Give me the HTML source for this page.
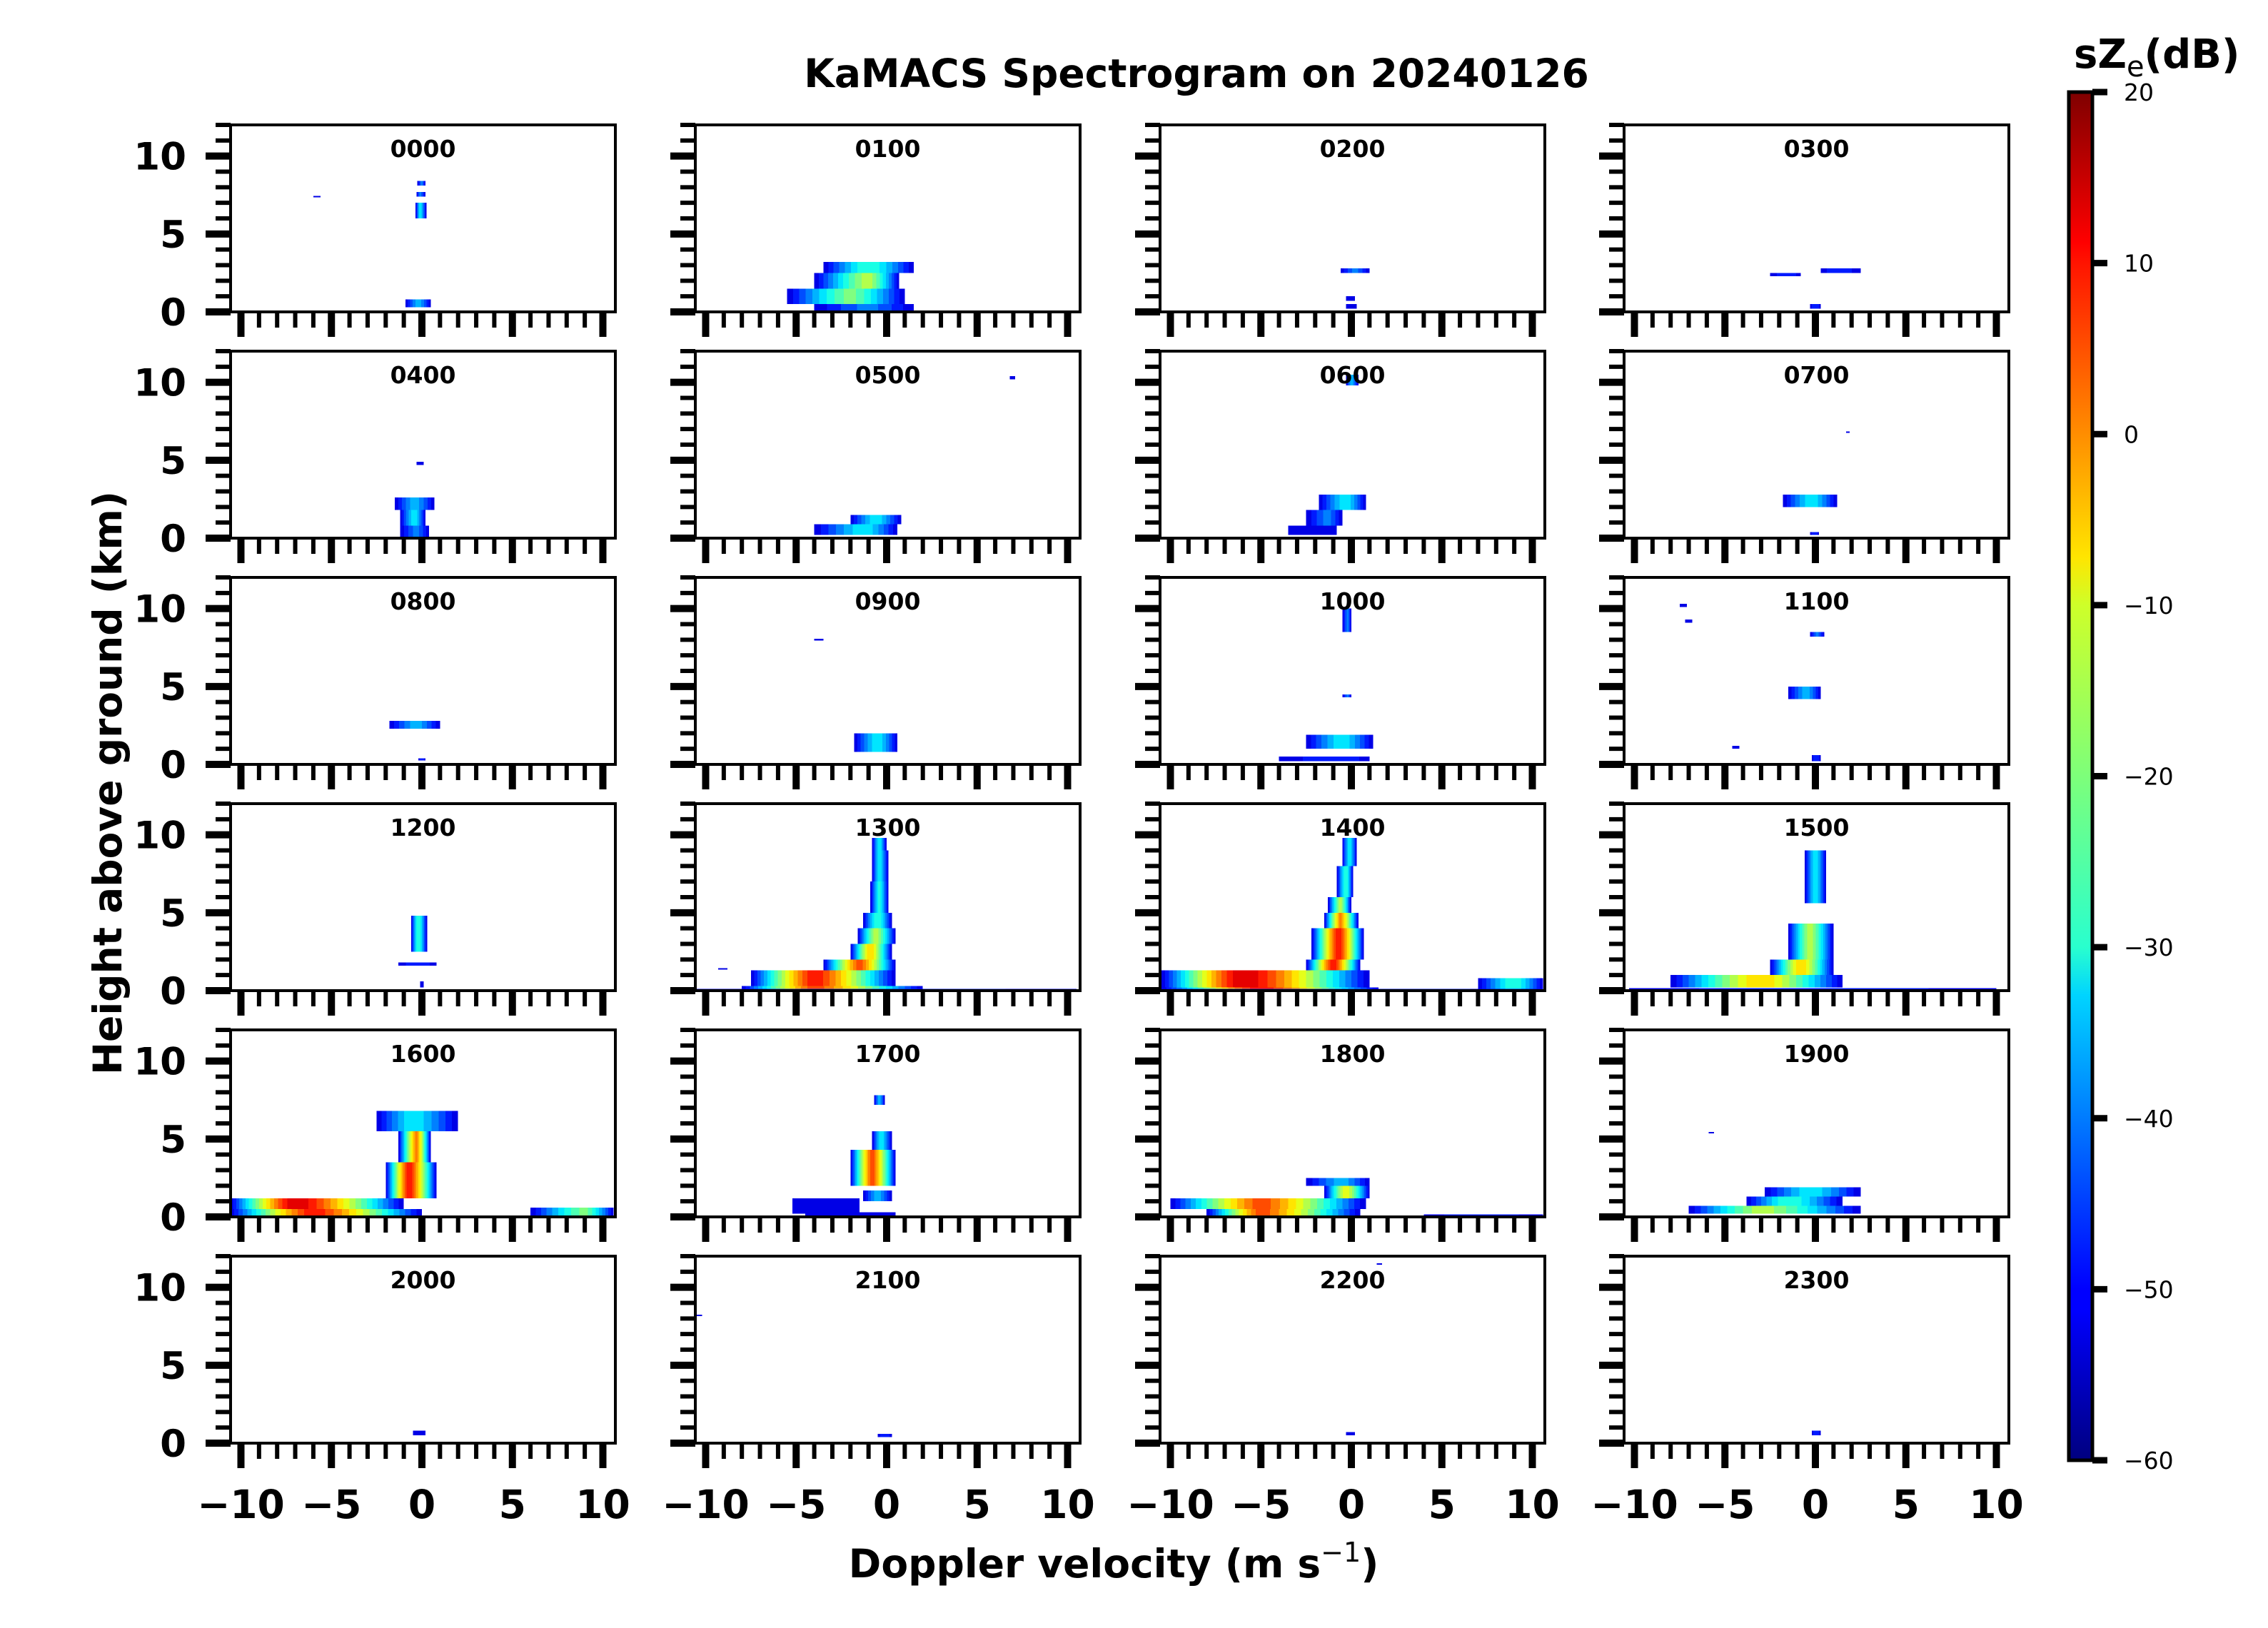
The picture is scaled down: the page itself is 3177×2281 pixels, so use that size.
<!DOCTYPE html>
<html><head><meta charset="utf-8"><style>
html,body{margin:0;padding:0;background:#fff;}
svg{display:block;font-family:"DejaVu Sans","Liberation Sans",sans-serif;}
</style></head><body>
<svg id="fig" width="3177" height="2281" viewBox="0 0 3177 2281" xmlns="http://www.w3.org/2000/svg">
<defs>
<linearGradient id="jetgrad" x1="0" y1="1" x2="0" y2="0">
<stop offset="0" stop-color="#00007f"/><stop offset="0.11" stop-color="#0000ff"/><stop offset="0.125" stop-color="#0000ff"/>
<stop offset="0.34" stop-color="#00d4ff"/><stop offset="0.375" stop-color="#29ffce"/><stop offset="0.5" stop-color="#7dff7a"/>
<stop offset="0.625" stop-color="#ceff29"/><stop offset="0.66" stop-color="#ffe500"/><stop offset="0.875" stop-color="#ff1400"/>
<stop offset="0.89" stop-color="#ff0000"/><stop offset="1" stop-color="#7f0000"/>
</linearGradient>
</defs>
<text x="1676" y="122" font-size="55" font-weight="bold" text-anchor="middle">KaMACS Spectrogram on 20240126</text>
<text x="1560" y="2210" font-size="55" font-weight="bold" text-anchor="middle">Doppler velocity (m s<tspan font-size="38" dy="-22" font-weight="normal">−1</tspan><tspan dy="22">)</tspan></text>
<text transform="translate(170,1097) rotate(-90)" font-size="55" font-weight="bold" text-anchor="middle">Height above ground (km)</text>
<g id="panels"></g>
<g id="cbar">
<rect x="2898" y="129" width="33" height="1917" fill="url(#jetgrad)" stroke="#000" stroke-width="5"/>
<text x="2905" y="95" font-size="56" font-weight="bold">sZ<tspan font-size="40" font-weight="normal" dy="12">e</tspan><tspan dy="-12">(dB)</tspan></text>
</g>
</svg>
<script>
const titles = ["0000","0100","0200","0300","0400","0500","0600","0700","0800","0900","1000","1100","1200","1300","1400","1500","1600","1700","1800","1900","2000","2100","2200","2300"];
const cbarTicks = [20,10,0,-10,-20,-30,-40,-50,-60];
const xTicks = [-10,-5,0,5,10];
const yTicks = [0,5,10];
// segments per panel: [h_bottom_km, h_top_km, v_left, v_right, v_core, peak_dB]
const seg0000 = [[6,7,-0.35,0.25,-0.1,-30],[7.4,7.7,-0.3,0.2,-0.1,-40],[8.1,8.4,-0.25,0.2,0,-40],[7.35,7.45,-6.0,-5.6,-5.8,-50],[1.3,1.4,-0.1,0.3,0.1,-55],[0.3,0.8,-0.9,0.5,-0.2,-35]];
const seg0100 = [[2.5,3.2,-3.5,1.5,-1,-25],[1.5,2.5,-4,0.7,-1,-15],[0.5,1.5,-5.5,1,-2,-20],[0.05,0.5,-4,1.5,-1,-40]];
const seg0200 = [[2.5,2.8,-0.6,1,0.2,-40],[0.7,1.0,-0.3,0.2,0,-50],[0.2,0.5,-0.3,0.3,0,-50]];
const seg0300 = [[2.3,2.5,-2.5,-0.8,-1.5,-45],[2.5,2.8,0.3,2.5,1.2,-45],[0.2,0.5,-0.3,0.3,0,-45]];
const seg0400 = [[1.8,2.6,-1.5,0.7,-0.4,-35],[0.8,1.8,-1.2,0.2,-0.4,-30],[0.05,0.8,-1.2,0.4,-0.3,-40],[4.7,4.9,-0.3,0.1,-0.1,-50]];
const seg0500 = [[0.9,1.5,-2,0.8,-0.6,-30],[0.2,0.9,-4,0.6,-1.2,-30],[10.2,10.4,6.8,7.1,7,-50]];
const seg0600 = [[1.8,2.8,-1.8,0.8,-0.3,-30],[0.8,1.8,-2.5,-0.5,-1.3,-40],[0.2,0.8,-3.5,-0.8,-2,-50],[9.8,10.5,-0.3,0.4,0,-35]];
const seg0700 = [[2,2.8,-1.8,1.2,-0.2,-30],[0.2,0.4,-0.3,0.2,0,-45],[6.75,6.85,1.7,1.9,1.8,-50]];
const seg0800 = [[2.3,2.8,-1.8,1,-0.3,-35],[0.25,0.4,-0.2,0.2,0,-45]];
const seg0900 = [[0.8,2,-1.8,0.6,-0.5,-30],[7.95,8.05,-4,-3.5,-3.7,-50]];
const seg1000 = [[8.5,10,-0.5,0,-0.2,-40],[4.3,4.5,-0.5,0,-0.2,-40],[1,1.9,-2.5,1.2,-0.5,-30],[0.2,0.5,-4,1,-0.5,-45]];
const seg1100 = [[4.2,5,-1.5,0.3,-0.5,-35],[8.2,8.5,-0.3,0.5,0.1,-40],[0.2,0.6,-0.2,0.3,0,-45],[10.1,10.3,-7.5,-7.1,-7.3,-50],[9.1,9.3,-7.2,-6.8,-7,-50],[1.0,1.2,-4.6,-4.2,-4.4,-50]];
const seg1200 = [[2.5,4.8,-0.6,0.3,-0.2,-25],[1.6,1.8,-1.3,0.8,-0.2,-45],[0.2,0.6,-0.1,0.1,0,-50]];
const seg1300 = [[9,9.8,-0.8,0,-0.4,-30],[7,9,-0.8,0.1,-0.4,-30],[5,7,-0.9,0.1,-0.4,-28],[4,5,-1.3,0.3,-0.5,-25],[3,4,-1.6,0.5,-0.6,-15],[2,3,-2,0.3,-0.9,-5],[1.3,2,-3.5,0.5,-1.5,5],[0.3,1.3,-7.5,0.5,-4,10],[0.05,0.3,-8,2,-4,5],[0,0.12,-10.5,10.5,0,-45],[1.35,1.45,-9.3,-8.8,-9,-50]];
const seg1400 = [[8,9.8,-0.5,0.3,-0.1,-30],[6,8,-0.8,0.1,-0.3,-25],[5,6,-1.3,0,-0.6,-15],[4,5,-1.5,0.4,-0.6,0],[2,4,-2.2,0.7,-0.7,10],[1.3,2,-2.5,0.5,-1,10],[0.2,1.3,-10.5,1,-6,15],[0,0.2,-10.5,1.5,-5,10],[0,0.8,7,10.6,9,-25],[0,0.12,-10.5,10.5,0,-45]];
const seg1500 = [[5.6,9,-0.6,0.6,0,-30],[2,4.3,-1.5,1,-0.3,-15],[1,2,-2.5,1,-0.8,-5],[0.2,1,-8,1.5,-3,-5],[0,0.15,-10.3,10,0,-45]];
const seg1600 = [[5.5,6.8,-2.5,2,-0.5,-30],[3.5,5.5,-1.3,0.5,-0.3,0],[1.2,3.5,-2,0.8,-0.7,10],[0.5,1.2,-10.6,-1,-7,15],[0,0.5,-10.6,0,-6,10],[0,0.6,6,10.6,9,-20]];
const seg1700 = [[7.2,7.8,-0.7,-0.1,-0.4,-35],[4.3,5.5,-0.8,0.3,-0.3,-30],[2,4.3,-2,0.5,-0.8,5],[1,1.7,-1.3,0.3,-0.5,-35],[0.2,1.2,-5.2,-1.5,-3.5,-50],[0,0.3,-4.5,0.5,-2,-50]];
const seg1800 = [[2,2.5,-2.5,1,-0.5,-35],[1.2,2,-1.5,1,-0.3,-10],[0.5,1.2,-10,0.8,-5,5],[0,0.5,-8,0.5,-5,5],[0,0.15,4,10.6,7,-45]];
const seg1900 = [[1.3,1.9,-2.8,2.5,-0.3,-30],[0.7,1.3,-3.8,1.5,-1.5,-25],[0.2,0.7,-7,2.5,-3,-15],[5.35,5.45,-5.9,-5.6,-5.8,-50]];
const seg2000 = [[1.2,1.3,-0.7,0.2,-0.2,-55],[0.5,0.8,-0.5,0.2,-0.1,-50]];
const seg2100 = [[0.4,0.6,-0.5,0.3,-0.1,-45],[8.15,8.25,-10.5,-10.2,-10.4,-50]];
const seg2200 = [[0.5,0.7,-0.3,0.2,0,-50],[11.45,11.55,1.4,1.7,1.5,-50]];
const seg2300 = [[0.5,0.8,-0.2,0.3,0,-45]];
const segments = [seg0000,seg0100,seg0200,seg0300,seg0400,seg0500,seg0600,seg0700,seg0800,seg0900,seg1000,seg1100,seg1200,seg1300,seg1400,seg1500,seg1600,seg1700,seg1800,seg1900,seg2000,seg2100,seg2200,seg2300];

const NS = "http://www.w3.org/2000/svg";
const colX = [323, 974, 1625, 2275], PW = 539;
const rowY0 = 175, ROWSTEP = 317, PH = 262;
function mk(tag, attrs, parent){ const e=document.createElementNS(NS,tag); for(const k in attrs) e.setAttribute(k,attrs[k]); parent.appendChild(e); return e; }
function jet(db){
  let t=(db+60)/80; t=Math.max(0,Math.min(1,t));
  const c=v=>Math.round(255*Math.max(0,Math.min(1,v)));
  return `rgb(${c(1.5-Math.abs(4*t-3))},${c(1.5-Math.abs(4*t-2))},${c(1.5-Math.abs(4*t-1))})`;
}
const panels = document.getElementById('panels');
titles.forEach((ttl, i) => {
  const r = Math.floor(i/4), c = i%4;
  const x0 = colX[c], y0 = rowY0 + r*ROWSTEP;
  const xs = v => x0 + 268 + v*25.35;
  const ys = h => y0 + PH - h*(PH/12);
  const g = mk('g', {}, panels);
  
  
  const cp = mk('clipPath', {id:'cp'+i}, g);
  mk('rect', {x:x0, y:y0, width:PW, height:PH}, cp);
  const dg = mk('g', {'clip-path':'url(#cp'+i+')', 'shape-rendering':'crispEdges'}, g);
  
  
  segments[i].forEach(s => {
    const [h0,h1,vl,vr,vc,pk] = s;
    for(let lv=-52; lv<=pk; lv+=4){
      const f = Math.pow((pk - lv + 2)/(pk + 54), 0.8);
      const l = vc - f*(vc - vl), rr = vc + f*(vr - vc);
      const hh = Math.max(ys(h0)-ys(h1), 2);
      const rect = mk('rect', {x:xs(l), y:ys(h1), width:Math.max(xs(rr)-xs(l),2), height:hh, fill:jet(lv)}, dg);
      
      
    }
  });
  const fr = mk('rect', {x:x0, y:y0, width:PW, height:PH, fill:'none', stroke:'#000', 'stroke-width':4}, g);
  
  
  const tt = mk('text', {x:x0+PW/2, y:y0+45, 'font-size':33, 'font-weight':'bold', 'text-anchor':'middle'}, g);
  tt.textContent = ttl;
  
  
  for(let v=-10; v<=10; v++){
    const major = v%5===0;
    const tk = mk('line', {x1:xs(v), x2:xs(v), y1:y0+PH, y2:y0+PH+(major?35:22), stroke:'#000', 'stroke-width':major?10:6}, g);
    
    
  }
  for(let h=0; h<=12; h++){
    const major = h%5===0;
    const tk = mk('line', {x1:x0, x2:x0-(major?35:21), y1:ys(h), y2:ys(h), stroke:'#000', 'stroke-width':major?10:6}, g);
    
    
  }
  if(c===0){
    yTicks.forEach(h => {
      const t = mk('text', {x:x0-62, y:ys(h)+19, 'font-size':53, 'font-weight':'bold', 'text-anchor':'end'}, g);
      t.textContent = String(h);
      
      
    });
  }
  if(r===5){
    xTicks.forEach(v => {
      const t = mk('text', {x:xs(v), y:2127, 'font-size':55, 'font-weight':'bold', 'text-anchor':'middle'}, g);
      t.textContent = v<0 ? '\u2212'+Math.abs(v) : String(v);
      
      
    });
  }
});
const cb = document.getElementById('cbar');
cbarTicks.forEach(v => {
  const y = 129 + (20 - v)/80*1917;
  const tk = mk('line', {x1:2931, x2:2952, y1:y, y2:y, stroke:'#000', 'stroke-width':9}, cb);
  
  
  const t = mk('text', {x:2975, y:y+12, 'font-size':33}, cb);
  t.textContent = v<0 ? '\u2212'+Math.abs(v) : String(v);
  
  
});
</script>
</body></html>
